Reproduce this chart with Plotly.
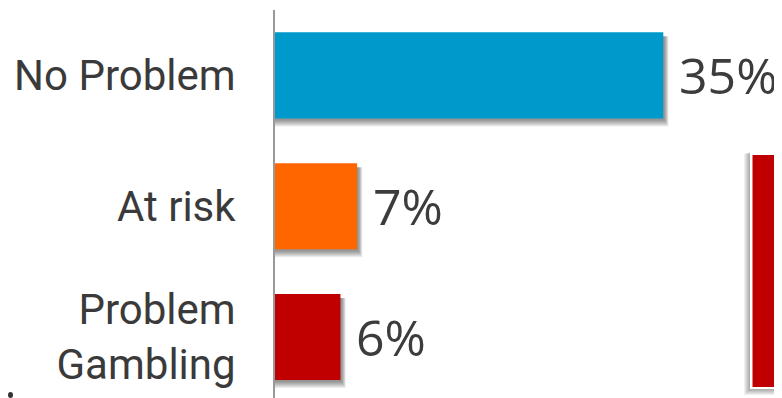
import plotly.graph_objects as go

categories = ["No Problem", "At risk", "Problem<br>Gambling"]
values = [35, 7.4, 5.9]
labels = ["35%", "7%", "6%"]
colors = ["#0099CC", "#FF6600", "#C00000"]

# the page body keeps an 8px margin, so the figure sits 8px in from the corner
OFF = 8
W, H = 782 - OFF, 398 - OFF
M_L, M_R, M_T, M_B = 275 - OFF, 0, 10 - OFF, 0
X_MAX = 45.7
Y_RANGE = [2.467, -0.5]
BAR_W = 0.658

fig = go.Figure(
    go.Bar(
        x=values,
        y=list(range(len(categories))),
        orientation="h",
        width=BAR_W,
        marker=dict(color=colors, line=dict(width=0)),
        hoverinfo="skip",
    )
)

for i, (v, t) in enumerate(zip(values, labels)):
    fig.add_annotation(
        x=v, y=i, xref="x", yref="y", text=t, showarrow=False,
        xanchor="left", yanchor="middle", xshift=14, yshift=0,
        font=dict(family="Open Sans", size=50, color="#3c3c3c"),
    )

# soft drop shadows under each bar
px_y = (Y_RANGE[0] - Y_RANGE[1]) / (H - M_T - M_B)
px_x = X_MAX / (W - M_L - M_R)
shapes = []
for i, v in enumerate(values):
    for k in range(1, 8):
        shapes.append(dict(
            type="rect", xref="x", yref="y", layer="below",
            x0=0, x1=v + (1 + k * 0.6) * px_x,
            y0=i - BAR_W / 2 + 4 * px_y, y1=i + BAR_W / 2 + (1 + k) * px_y,
            fillcolor="rgba(0,0,0,0.07)", line=dict(width=0),
        ))


def paper(px, py):
    px, py = px - OFF, py - OFF
    return (px - M_L) / (W - M_L - M_R), (H - M_B - py) / (H - M_T - M_B)


# red panel peeking in at the right edge
for k in range(1, 7):
    x0, y0 = paper(750 - k, 152 + k * 0.3)
    x1, y1 = paper(800, 389 + k)
    shapes.append(dict(type="rect", xref="paper", yref="paper", x0=x0, x1=x1,
                       y0=y0, y1=y1, fillcolor="rgba(0,0,0,0.06)",
                       line=dict(width=0)))
x0, y0 = paper(750, 152)
x1, y1 = paper(800, 389)
shapes.append(dict(type="rect", xref="paper", yref="paper", x0=x0, x1=x1,
                   y0=y0, y1=y1, fillcolor="white", line=dict(width=0)))
x0, y0 = paper(752.5, 155)
x1, y1 = paper(800, 387)
shapes.append(dict(type="rect", xref="paper", yref="paper", x0=x0, x1=x1,
                   y0=y0, y1=y1, fillcolor="#C00000", line=dict(width=0)))

# small bullet at bottom left
x0, y0 = paper(8, 398)
x1, y1 = paper(13, 392)
shapes.append(dict(type="circle", xref="paper", yref="paper", x0=x0, x1=x1,
                   y0=y0, y1=y1, fillcolor="#333333", line=dict(width=0)))

fig.update_layout(
    width=W,
    height=H,
    margin=dict(l=M_L, r=M_R, t=M_T, b=M_B, pad=0, autoexpand=False),
    paper_bgcolor="white",
    plot_bgcolor="white",
    showlegend=False,
    shapes=shapes,
    xaxis=dict(range=[0, X_MAX], visible=False, fixedrange=True),
    yaxis=dict(
        range=Y_RANGE,
        tickmode="array",
        tickvals=list(range(len(categories))),
        ticktext=categories,
        tickfont=dict(family="Roboto", size=42, color="#3a3a3a"),
        ticks="",
        ticklabelstandoff=29,
        automargin=False,
        showline=True,
        linecolor="#999999",
        linewidth=2,
        showgrid=False,
        zeroline=False,
        fixedrange=True,
    ),
)

fig.write_html("out.html")
